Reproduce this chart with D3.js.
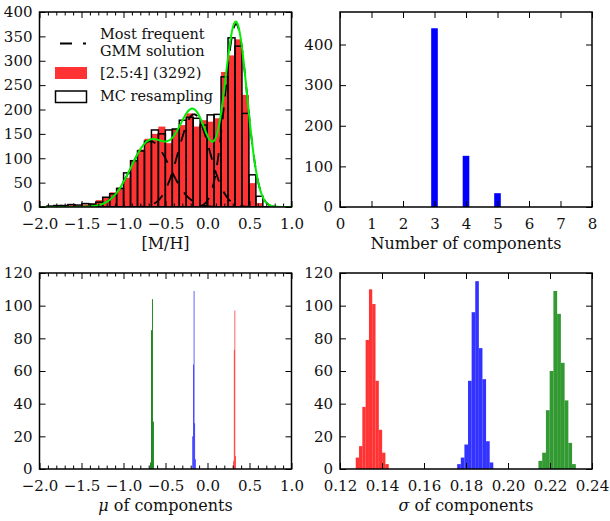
<!DOCTYPE html>
<html>
<head>
<meta charset="utf-8">
<script src="https://cdnjs.cloudflare.com/ajax/libs/d3/7.8.5/d3.min.js"></script>
<style>
body { margin: 0; background: #fff; }
svg text { font-family: "DejaVu Serif", serif; fill: #111; }
</style>
</head>
<body>
<svg width="610" height="521"></svg>
<script>
// ---- data ----
const nStars = 3292;
const mhBinStart = -1.994, mhBinWidth = 0.0829;
// [2.5:4] sample, red filled histogram
const mhCounts = [1, 2, 0, 3, 4, 3, 5, 7, 14, 20, 30, 40, 60, 95, 118, 140,
                  150, 165, 131, 160, 168, 192, 165, 178, 175, 182, 277, 311, 344, 230, 49, 8];
// MC resampling, black outlined histogram
const mcCounts = [0, 2, 3, 3, 5, 4, 7, 6, 10, 20, 27, 38, 70, 95, 115, 135,
                  158, 150, 158, 160, 178, 184, 182, 168, 189, 190, 267, 347, 330, 192, 66, 22];
// most frequent GMM solution (3 components)
const gmmMu = [-0.68, -0.16, 0.34];
const gmmSigma = [0.23, 0.185, 0.132];
const gmmWeight = [0.285, 0.323, 0.455];

// number of components
const nComp = [3, 4, 5];
const nCompCounts = [440, 126, 34];

// mu of components
const muStart = [-0.684, -0.180, 0.306];
const muWidth = [0.0115, 0.008, 0.008];
const muCounts = [
  [4, 85, 104, 29],
  [20, 64, 109, 28, 6],
  [5, 73, 97, 8]
];
const muColors = ['#007800', '#0000ff', '#ff0000'];

// sigma of components (10 bins each)
const sigStart = [0.1275, 0.1758, 0.2145];
const sigWidth = [0.00157, 0.00172, 0.00178];
const sigCounts = [
  [7, 14, 38, 79, 110, 101, 54, 24, 10, 3],
  [3, 7, 15, 54, 96, 115, 74, 55, 17, 4],
  [5, 10, 36, 60, 109, 95, 65, 42, 16, 3]
];
const sigColors = ['#ff0000', '#0000ff', '#008000'];

// ---- layout ----
const svg = d3.select('svg');
const W = 252;
let clipN = 0;

function panel(x0, y0, h, xDom, yDom) {
  const g = svg.append('g').attr('transform', 'translate(' + x0 + ',' + y0 + ')');
  const x = d3.scaleLinear().domain(xDom).range([0, W]);
  const y = d3.scaleLinear().domain(yDom).range([h, 0]);
  const id = 'clip' + (clipN++);
  g.append('clipPath').attr('id', id).append('rect').attr('width', W).attr('height', h);
  const plot = g.append('g').attr('clip-path', 'url(#' + id + ')');
  return { g: g, plot: plot, x: x, y: y, h: h };
}

function styleAxis(sel) {
  sel.attr('font-size', 15).attr('font-family', '"DejaVu Serif", serif').attr('color', '#000');
  sel.select('.domain').remove();
}

function axes(p, xTicks, xMinor, xFmt, yTicks, yFmt, label) {
  const g = p.g, x = p.x, y = p.y, h = p.h;
  g.append('g').attr('transform', 'translate(0,' + h + ')')
    .call(d3.axisBottom(x).tickValues(xTicks).tickFormat(xFmt).tickSize(-6).tickPadding(11)).call(styleAxis);
  g.append('g').call(d3.axisTop(x).tickValues(xTicks).tickFormat('').tickSize(-6)).call(styleAxis);
  if (xMinor) {
    g.append('g').attr('transform', 'translate(0,' + h + ')')
      .call(d3.axisBottom(x).tickValues(xMinor).tickFormat('').tickSize(-3.5)).call(styleAxis);
    g.append('g').call(d3.axisTop(x).tickValues(xMinor).tickFormat('').tickSize(-3.5)).call(styleAxis);
  }
  g.append('g').call(d3.axisLeft(y).tickValues(yTicks).tickFormat(yFmt).tickSize(-6).tickPadding(7)).call(styleAxis);
  g.append('g').attr('transform', 'translate(' + W + ',0)')
    .call(d3.axisRight(y).tickValues(yTicks).tickFormat('').tickSize(-6)).call(styleAxis);
  g.selectAll('.tick text').style('fill', '#111');
  g.append('rect').attr('width', W).attr('height', h)
    .attr('fill', 'none').attr('stroke', '#000').attr('stroke-width', 1.5);
  const t = g.append('text').attr('x', W / 2).attr('y', h + 42)
    .attr('text-anchor', 'middle').attr('font-size', 16);
  label(t);
}

const fmt1 = d3.format('.1f');
const mhMajor = d3.range(-2, 1.001, 0.5);
const mhMinor = d3.range(-20, 11).map(d => d / 10).filter(d => Math.abs(d * 2 - Math.round(d * 2)) > 1e-6);

// ---- top left: [M/H] ----
const p1 = panel(39.5, 12, 195, [-2, 1], [0, 400]);
const bins = mhCounts.map((c, i) => ({ x0: mhBinStart + i * mhBinWidth, x1: mhBinStart + (i + 1) * mhBinWidth, red: c, mc: mcCounts[i] }));

p1.plot.selectAll('.red').data(bins).enter().append('rect')
  .attr('x', d => p1.x(d.x0)).attr('width', d => p1.x(d.x1) - p1.x(d.x0))
  .attr('y', d => p1.y(d.red)).attr('height', d => p1.y(0) - p1.y(d.red))
  .attr('fill', '#ff0000').attr('fill-opacity', 0.8);

p1.plot.selectAll('.mc').data(bins).enter().append('rect')
  .attr('x', d => p1.x(d.x0)).attr('width', d => p1.x(d.x1) - p1.x(d.x0))
  .attr('y', d => p1.y(d.mc)).attr('height', d => p1.y(0) - p1.y(d.mc))
  .attr('fill', 'none').attr('stroke', '#000').attr('stroke-width', 1.5);

const xs = d3.range(-2, 1.0001, 0.005);
function comp(k, v) {
  const z = (v - gmmMu[k]) / gmmSigma[k];
  return nStars * mhBinWidth * gmmWeight[k] * Math.exp(-0.5 * z * z) / (gmmSigma[k] * Math.sqrt(2 * Math.PI));
}
const line = d3.line().x(d => p1.x(d[0])).y(d => p1.y(d[1]));
gmmMu.forEach((m, k) => {
  p1.plot.append('path').datum(xs.map(v => [v, comp(k, v)]))
    .attr('d', line).attr('fill', 'none').attr('stroke', '#000')
    .attr('stroke-width', 1.8).attr('stroke-dasharray', '12,11');
});
p1.plot.append('path').datum(xs.map(v => [v, d3.sum(gmmMu, (m, k) => comp(k, v))]))
  .attr('d', line).attr('fill', 'none').attr('stroke', '#00ee00').attr('stroke-width', 2);

// legend
const lg = p1.g.append('g').attr('font-size', 14.5);
lg.append('line').attr('x1', 20.5).attr('x2', 46.5).attr('y1', 31.5).attr('y2', 31.5)
  .attr('stroke', '#000').attr('stroke-width', 1.8).attr('stroke-dasharray', '12,11');
lg.append('text').attr('x', 60.5).attr('y', 27).text('Most frequent');
lg.append('text').attr('x', 60.5).attr('y', 44).text('GMM solution');
lg.append('rect').attr('x', 15.5).attr('y', 55).attr('width', 32).attr('height', 12)
  .attr('fill', '#ff0000').attr('fill-opacity', 0.8);
lg.append('text').attr('x', 60.5).attr('y', 66).text('[2.5:4] (3292)');
lg.append('rect').attr('x', 16).attr('y', 79).attr('width', 31).attr('height', 11.5)
  .attr('fill', '#fff').attr('stroke', '#000').attr('stroke-width', 1.5);
lg.append('text').attr('x', 60.5).attr('y', 89).text('MC resampling');

axes(p1, mhMajor, mhMinor, fmt1, d3.range(0, 401, 50), d3.format('d'), t => t.text('[M/H]'));

// ---- top right: number of components ----
const p2 = panel(340, 12, 195, [0, 8], [0, 480]);
p2.plot.selectAll('rect.b').data(nComp).enter().append('rect')
  .attr('x', d => p2.x(d - 0.105)).attr('width', p2.x(0.21) - p2.x(0))
  .attr('y', (d, i) => p2.y(nCompCounts[i])).attr('height', (d, i) => p2.y(0) - p2.y(nCompCounts[i]))
  .attr('fill', '#0000ff');
axes(p2, d3.range(0, 9), null, d3.format('d'), d3.range(0, 401, 100), d3.format('d'), t => t.text('Number of components'));

// ---- bottom left: mu ----
const p3 = panel(39.5, 273, 196, [-2, 1], [0, 120]);
muCounts.forEach((cs, k) => {
  p3.plot.selectAll('rect.m' + k).data(cs).enter().append('rect')
    .attr('x', (c, i) => p3.x(muStart[k] + i * muWidth[k]))
    .attr('width', p3.x(muWidth[k]) - p3.x(0))
    .attr('y', c => p3.y(c)).attr('height', c => p3.y(0) - p3.y(c))
    .attr('fill', muColors[k]).attr('fill-opacity', 0.9);
});
axes(p3, mhMajor, mhMinor, fmt1, d3.range(0, 121, 20), d3.format('d'), t => {
  t.append('tspan').attr('font-style', 'italic').text('μ');
  t.append('tspan').text(' of components');
});

// ---- bottom right: sigma ----
const p4 = panel(340, 273, 196, [0.12, 0.24], [0, 120]);
sigCounts.forEach((cs, k) => {
  p4.plot.selectAll('rect.s' + k).data(cs).enter().append('rect')
    .attr('x', (c, i) => p4.x(sigStart[k] + i * sigWidth[k]))
    .attr('width', p4.x(0.12 + sigWidth[k]) - p4.x(0.12))
    .attr('y', c => p4.y(c)).attr('height', c => p4.y(0) - p4.y(c))
    .attr('fill', sigColors[k]).attr('fill-opacity', 0.8);
});
axes(p4, d3.range(0.12, 0.2401, 0.02), null, d3.format('.2f'), d3.range(0, 121, 20), d3.format('d'), t => {
  t.append('tspan').attr('font-style', 'italic').text('σ');
  t.append('tspan').text(' of components');
});
</script>
</body>
</html>
